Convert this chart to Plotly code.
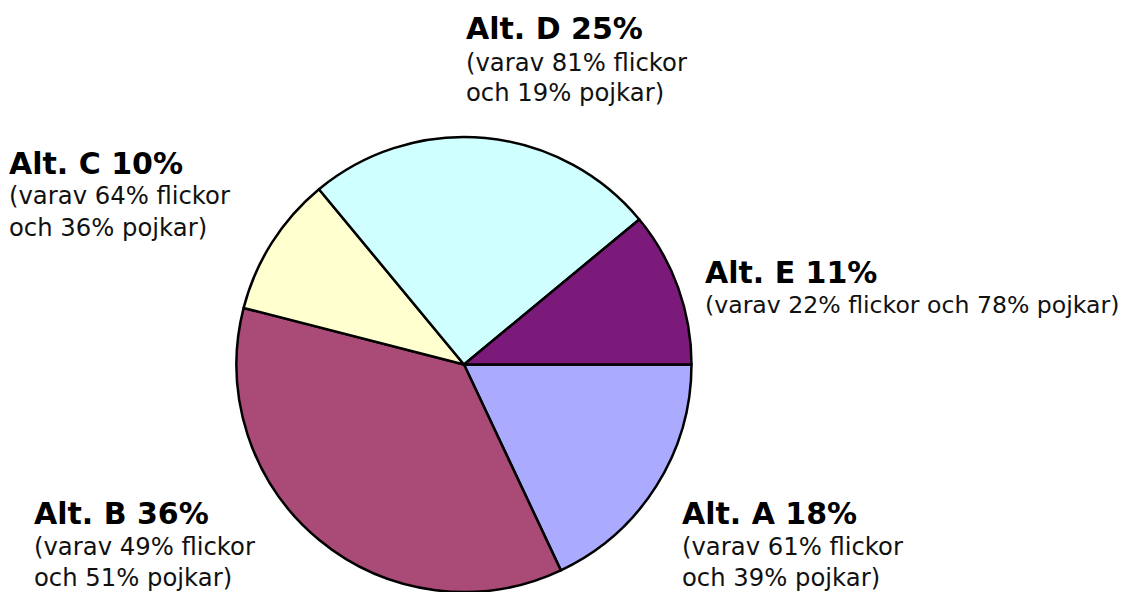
import plotly.graph_objects as go

labels = ["Alt. A", "Alt. B", "Alt. C", "Alt. D", "Alt. E"]
values = [18, 36, 10, 25, 11]
girls = [61, 49, 64, 81, 22]
boys = [39, 51, 36, 19, 78]
colors = ["#AAAAFF", "#A94A77", "#FFFFD0", "#D0FFFF", "#7B1A7B"]

# page body adds an 8px offset; size the figure to fill the remaining window
OFF = 8
W, H = 1138 - 2 * OFF, 592 - OFF


def px(x):
    return (x - OFF) / W


def py(y):
    return 1 - (y - OFF) / H


fig = go.Figure(go.Pie(
    labels=labels, values=values, sort=False, direction="clockwise", rotation=90,
    marker=dict(colors=colors, line=dict(color="black", width=2.5)),
    textinfo="none", hoverinfo="label+percent", showlegend=False,
    domain=dict(x=[px(236), px(692)], y=[0, py(137)]),
))

# label layout: (left x px, bold-line center y px, one-line subtitle?)
label_pos = {
    "Alt. A": (680, 513, False),
    "Alt. B": (32, 513, False),
    "Alt. C": (7, 163, False),
    "Alt. D": (464, 29, False),
    "Alt. E": (703, 272, True),
}

annotations = []
for lab, v, g, b in zip(labels, values, girls, boys):
    x, y, oneline = label_pos[lab]
    annotations.append(dict(
        x=px(x), y=py(y), xref="paper", yref="paper", xanchor="left", yanchor="middle",
        text=f"<b>{lab} {v}%</b>", showarrow=False,
        font=dict(family="DejaVu Sans", size=30, color="black")))
    if oneline:
        subs = [f"(varav {g}% flickor och {b}% pojkar)"]
        size = 23.6
    else:
        subs = [f"(varav {g}% flickor", f"och {b}% pojkar)"]
        size = 24.3
    for i, s in enumerate(subs):
        annotations.append(dict(
            x=px(x), y=py(y + 33 + 31 * i), xref="paper", yref="paper",
            xanchor="left", yanchor="middle", text=s, showarrow=False,
            font=dict(family="DejaVu Sans", size=size, color="#111111")))

fig.update_layout(
    width=W, height=H, margin=dict(l=0, r=0, t=0, b=0),
    paper_bgcolor="white", plot_bgcolor="white",
    annotations=annotations,
)

fig.write_html("out.html")
